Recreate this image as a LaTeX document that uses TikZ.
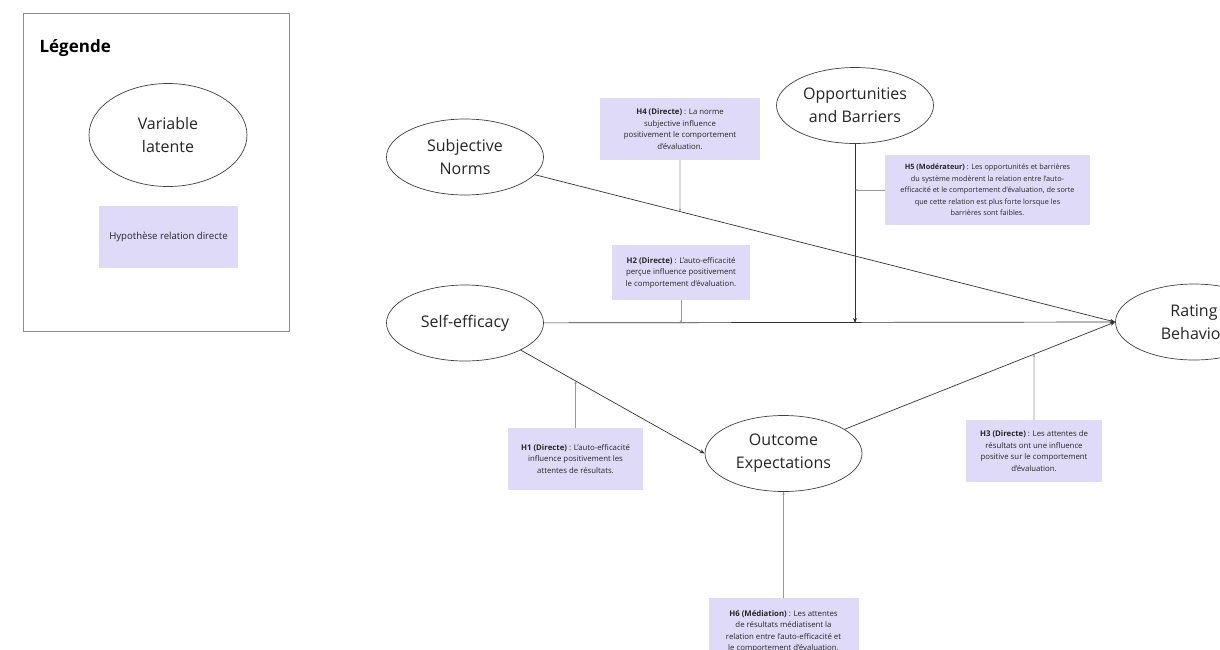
\documentclass[tikz,border=0pt]{standalone}
\usepackage{fontspec}
\setmainfont{Open Sans}
\usetikzlibrary{shapes.geometric,arrows.meta,intersections,calc}
\definecolor{hypfill}{HTML}{DEDAF8}
\definecolor{inkline}{HTML}{333333}
\begin{document}
\begin{tikzpicture}[x=1pt,y=-1pt,
  latent/.style={ellipse, draw=black!75, line width=0.7pt, minimum width=157pt,
    minimum height=76pt, inner sep=0pt, align=center,
    font=\fontsize{16}{23}\selectfont, text=black!85},
  hypo/.style={fill=hypfill, inner sep=3pt, align=center,
    font=\fontsize{7.8}{11.5}\selectfont, text=black!85},
  rel/.style={draw=inkline, line width=0.7pt, -{Stealth[length=5pt,width=4pt]}},
  note/.style={draw=black!40, line width=0.6pt, -{Stealth[length=3pt,width=2.5pt]}}]
\useasboundingbox (0,0) rectangle (1220,649);
\clip (0,0) rectangle (1220,649);
\fill[white] (0,0) rectangle (1220,649);

% Legend
\draw[black!45, line width=0.8pt] (23,13) rectangle (289,331);
\node[anchor=west, font=\fontsize{17}{20}\selectfont\bfseries] (legtitle) at (36,48) {Légende};
\node[latent, minimum width=158pt, minimum height=103pt] (legvar) at (168,135) {Variable\\latente};
\node[fill=hypfill, minimum width=139pt, minimum height=62pt, inner sep=0pt,
  font=\fontsize{9.6}{11}\selectfont, text=black!85] (leghyp) at (168.5,237) {Hypothèse relation directe};

% Latent variables
\node[latent] (sn) at (465,157) {Subjective\\Norms};
\node[latent] (ob) at (855,105.5) {Opportunities\\and Barriers};
\node[latent] (se) at (465,323) {Self-efficacy};
\node[latent] (oe) at (783.5,453.5) {Outcome\\Expectations};
\node[latent] (rb) at (1194,322) {Rating\\Behavior};

% Hypothesis boxes
\node[hypo, minimum width=160pt, minimum height=62pt] (h4) at (680,129)
  {\textbf{H4 (Directe)} : La norme\\subjective influence\\positivement le comportement\\d'évaluation.};
\node[hypo, minimum width=138pt, minimum height=55pt] (h2) at (681,272.5)
  {\textbf{H2 (Directe)} : L'auto-efficacité\\perçue influence positivement\\le comportement d'évaluation.};
\node[hypo, minimum width=135pt, minimum height=62pt] (h1) at (575.5,459)
  {\textbf{H1 (Directe)} : L'auto-efficacité\\influence positivement les\\attentes de résultats.};
\node[hypo, minimum width=136pt, minimum height=62pt] (h3) at (1034,451)
  {\textbf{H3 (Directe)} : Les attentes de\\résultats ont une influence\\positive sur le comportement\\d'évaluation.};
\node[hypo, minimum width=205pt, minimum height=70pt, font=\fontsize{7.3}{11.5}\selectfont] (h5) at (987.5,190)
  {\textbf{H5 (Modérateur)} : Les opportunités et barrières\\du système modèrent la relation entre l'auto-\\efficacité et le comportement d'évaluation, de sorte\\que cette relation est plus forte lorsque les\\barrières sont faibles.};
\node[hypo, minimum width=150pt, minimum height=66pt, anchor=north] (h6) at (783.5,598)
  {\textbf{H6 (Médiation)} : Les attentes\\de résultats médiatisent la\\relation entre l'auto-efficacité et\\le comportement d'évaluation.};

% Structural paths
\draw[rel, name path=snrb] (sn) -- (rb.west);
\draw[rel] (se) -- (rb.west);
\draw[rel, name path=seoe] (se.south east) -- (oe.west);
\draw[rel, name path=oerb] (oe) -- (rb.west);
\draw[rel] (ob.south) -- (ob.south |- se.east);

% Hypothesis connectors
\path[name path=v4] (h4.south) -- ++(0,80);
\draw[note, name intersections={of=snrb and v4, by=p4}] (h4.south) -- (p4);
\draw[note] (h2.south) -- (h2.south |- se.east);
\path[name path=v1] (h1.north) -- ++(0,-120);
\draw[note, name intersections={of=seoe and v1, by=p1}] (h1.north) -- (p1);
\path[name path=v3] (h3.north) -- ++(0,-120);
\draw[note, name intersections={of=oerb and v3, by=p3}] (h3.north) -- (p3);
\draw[note] (h5.west) -- (ob.south |- h5.west);
\draw[note] (h6.north) -- (oe.south);
\end{tikzpicture}
\end{document}
